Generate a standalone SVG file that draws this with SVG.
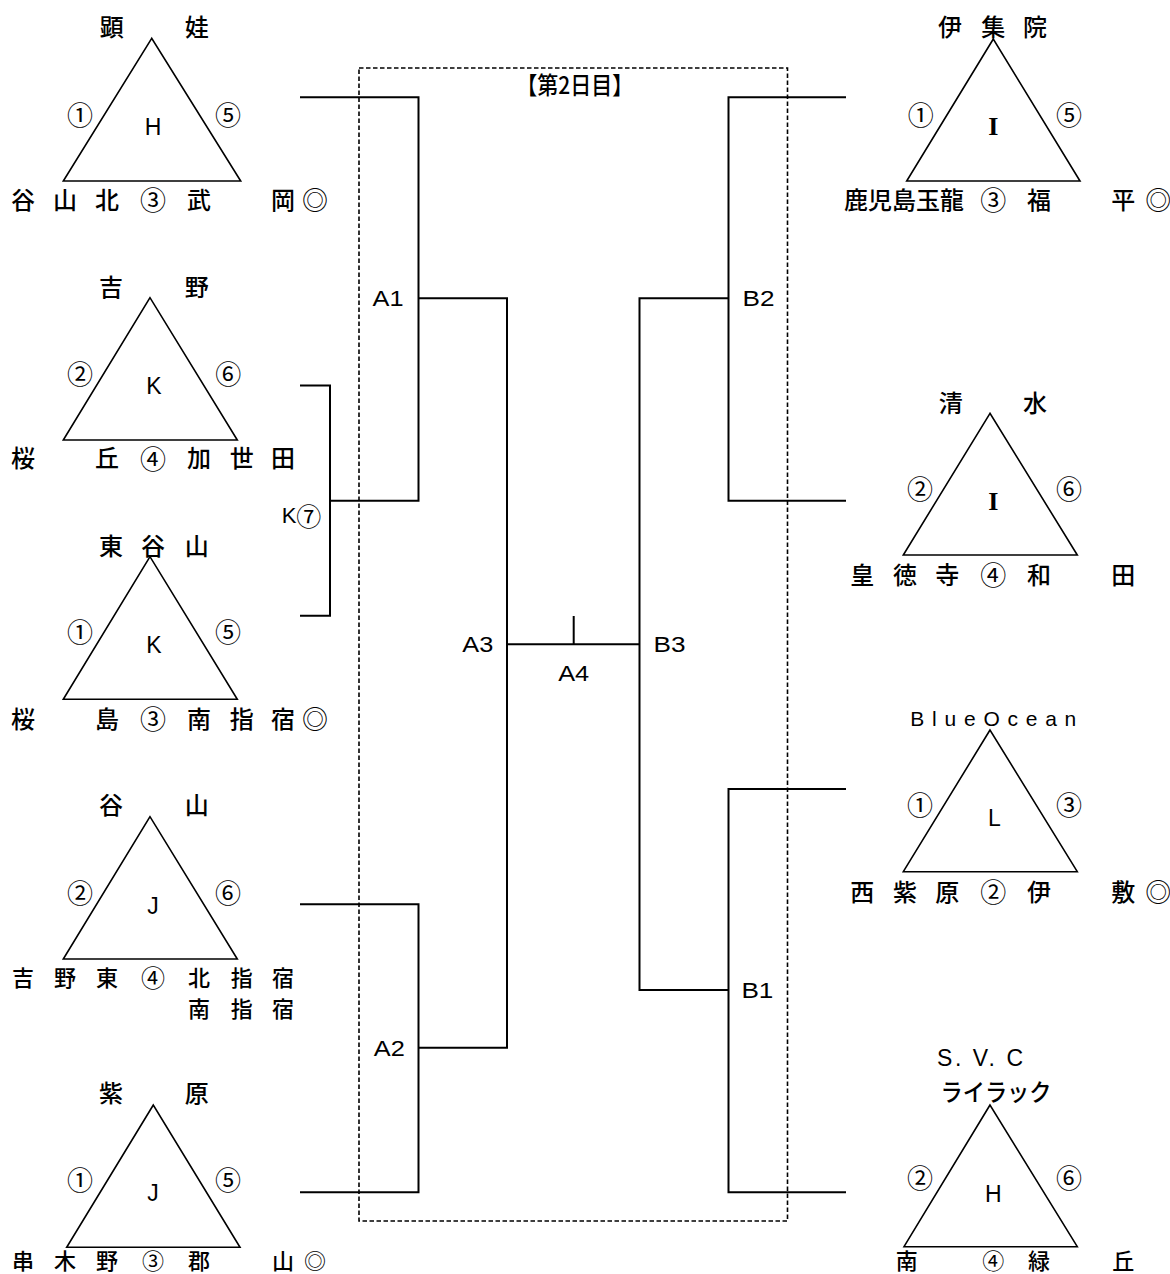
<svg xmlns="http://www.w3.org/2000/svg" width="1170" height="1274" viewBox="0 0 1170 1274">
<style>
.j{font-family:"Noto Sans CJK JP","Liberation Sans",sans-serif;font-size:24px;font-weight:500;text-anchor:middle;dominant-baseline:central;fill:#000}
.s{font-size:22px}
.c{font-family:"Noto Sans CJK JP",sans-serif;font-size:26px;text-anchor:middle;dominant-baseline:central;fill:#000}
.cs{font-size:26px;font-weight:400}
.cb{font-size:24px;font-weight:400}
.cn{font-weight:400}
.g{font-family:"Liberation Sans","Noto Sans CJK JP",sans-serif;font-size:23px;text-anchor:middle;dominant-baseline:central;fill:#000}
.r{font-family:"Liberation Serif","Noto Serif CJK JP",serif;font-size:26px;font-weight:bold;text-anchor:middle;dominant-baseline:central;fill:#000}
.lb{font-family:"Liberation Sans","Noto Sans CJK JP",sans-serif;font-size:22px;text-anchor:middle;dominant-baseline:central;fill:#000}
.tri{fill:none;stroke:#000;stroke-width:1.6;stroke-linejoin:miter}
.ln{fill:none;stroke:#000;stroke-width:2}
.dash{fill:none;stroke:#000;stroke-width:1.6;stroke-dasharray:4.5 2.5}
</style>
<rect width="1170" height="1274" fill="#fff"/>

<g id="frame">
<rect class="dash" x="359" y="68" width="428.5" height="1153"/>
<text class="j" x="574.7" y="83" textLength="117" lengthAdjust="spacingAndGlyphs">【第2日目】</text>
</g>

<g id="connectors">
<path class="ln" d="M300,97.3 H418.5 V500.7 H330"/>
<path class="ln" d="M300,385.5 H330 V615.8 H300"/>
<path class="ln" d="M418.5,298.3 H507 V1047.7 H418.5"/>
<path class="ln" d="M300,904.3 H418.5 V1192.3 H300"/>
<path class="ln" d="M507,644.3 H639.5"/>
<path class="ln" d="M573.7,616 V644.3"/>
<path class="ln" d="M846,97.3 H728.5 V500.7 H846"/>
<path class="ln" d="M728.5,298.3 H639.5 V990 H728.5"/>
<path class="ln" d="M846,789 H728.5 V1192.3 H846"/>
<text class="lb" x="388" y="298.3" textLength="31" lengthAdjust="spacingAndGlyphs">A1</text>
<text class="lb" x="758.5" y="298.3" textLength="32" lengthAdjust="spacingAndGlyphs">B2</text>
<text class="lb" x="477.8" y="644.3" textLength="31" lengthAdjust="spacingAndGlyphs">A3</text>
<text class="lb" x="669.6" y="644.3" textLength="32" lengthAdjust="spacingAndGlyphs">B3</text>
<text class="lb" x="573.7" y="673" textLength="31" lengthAdjust="spacingAndGlyphs">A4</text>
<text class="lb" x="389.3" y="1048" textLength="31" lengthAdjust="spacingAndGlyphs">A2</text>
<text class="lb" x="757.4" y="990" textLength="32" lengthAdjust="spacingAndGlyphs">B1</text>
<text class="lb" x="301.5" y="515">K<tspan style="font-family:'Noto Sans CJK JP',sans-serif;font-size:25px">⑦</tspan></text>
</g>

<g id="node-H-eino">
<polygon class="tri" points="151.7,38.3 63.3,181 240.7,181"/>
<text class="j" x="111.7 196.7" y="25">顕娃</text>
<text class="c" x="80" y="113">①</text>
<text class="c" x="228" y="113">⑤</text>
<text class="g" x="153" y="127">H</text>
<text class="j" x="23 65 107 153 199 283 315" y="198">谷山北<tspan class="cs">③</tspan>武岡<tspan class="cs">◎</tspan></text>
</g>

<g id="node-K-yoshino">
<polygon class="tri" points="150,297.7 63.3,440 237.3,440"/>
<text class="j" x="111 196.7" y="285">吉野</text>
<text class="c" x="80" y="372.7">②</text>
<text class="c" x="228.3" y="372.7">⑥</text>
<text class="g" x="154" y="386">K</text>
<text class="j" x="23 107 153 199 241.7 283" y="456.7">桜丘<tspan class="cs">④</tspan>加世田</text>
</g>

<g id="node-K-higashitaniyama">
<polygon class="tri" points="150,556.7 63.3,699.3 237.3,699.3"/>
<text class="j" x="111 153 196.7" y="544">東谷山</text>
<text class="c" x="80" y="630">①</text>
<text class="c" x="228" y="630">⑤</text>
<text class="g" x="154" y="645">K</text>
<text class="j" x="23 107 153 199 241.7 283 315" y="717.3">桜島<tspan class="cs">③</tspan>南指宿<tspan class="cs">◎</tspan></text>
</g>

<g id="node-J-taniyama">
<polygon class="tri" points="150,816.7 63.3,959 237.3,959"/>
<text class="j" x="111 196.7" y="803.3">谷山</text>
<text class="c" x="80" y="891">②</text>
<text class="c" x="228" y="891">⑥</text>
<text class="g" x="153" y="905.7">J</text>
<text class="j s" x="23 65 107 153 199 241.7 283" y="975.5">吉野東<tspan class="cb">④</tspan>北指宿</text>
<text class="j s" x="199 241.7 283" y="1007">南指宿</text>
</g>

<g id="node-J-shiohara">
<polygon class="tri" points="153.3,1105 66.7,1247.3 240,1247.3"/>
<text class="j" x="111 196.7" y="1091">紫原</text>
<text class="c" x="80" y="1178.3">①</text>
<text class="c" x="228" y="1178.3">⑤</text>
<text class="g" x="153" y="1193.3">J</text>
<text class="j s" x="23 65 107 153 199 283 315" y="1258.5">串木野<tspan class="cn">③</tspan>郡山<tspan class="cn">◎</tspan></text>
</g>

<g id="node-I-ijuin">
<polygon class="tri" points="993.3,39 906.7,181 1080,181"/>
<text class="j" x="950 993.3 1035" y="25">伊集院</text>
<text class="c" x="920.7" y="113.3">①</text>
<text class="c" x="1069" y="113.3">⑤</text>
<text class="r" x="993.3" y="126.7">I</text>
<text class="j" y="198.3"><tspan x="904">鹿児島玉龍</tspan><tspan x="993.3 1039 1123.3 1158.3"><tspan class="cs">③</tspan>福平<tspan class="cs">◎</tspan></tspan></text>
</g>

<g id="node-I-shimizu">
<polygon class="tri" points="990,413.3 903.3,555 1077.3,555"/>
<text class="j" x="950.7 1035" y="401.7">清水</text>
<text class="c" x="920" y="487.3">②</text>
<text class="c" x="1069" y="487.3">⑥</text>
<text class="r" x="993.3" y="501.7">I</text>
<text class="j" x="862.3 905 947.3 993.3 1039 1123.3" y="573.3">皇徳寺<tspan class="cs">④</tspan>和田</text>
</g>

<g id="node-L-blueocean">
<polygon class="tri" points="990,730 903.3,871.7 1077.3,871.7"/>
<text class="lb" x="993.3" y="718.3" style="font-size:21px" textLength="166" lengthAdjust="spacing">BlueOcean</text>
<text class="c" x="920" y="803.3">①</text>
<text class="c" x="1069" y="803.3">③</text>
<text class="g" x="994.3" y="818.3">L</text>
<text class="j" x="862.3 905 947.3 993.3 1039 1123.3 1158.3" y="890">西紫原<tspan class="cs">②</tspan>伊敷<tspan class="cs">◎</tspan></text>
</g>

<g id="node-H-svc">
<polygon class="tri" points="990,1105 904,1246.7 1077.3,1246.7"/>
<text class="lb" x="980" y="1058.3" style="font-size:23px" textLength="86" lengthAdjust="spacing">S. V. C</text>
<text class="j" x="996" y="1090" textLength="111" lengthAdjust="spacingAndGlyphs">ライラック</text>
<text class="c" x="920" y="1176.7">②</text>
<text class="c" x="1069" y="1176.7">⑥</text>
<text class="g" x="993.3" y="1194.3">H</text>
<text class="j s" x="906.7 993.3 1039 1123.3" y="1258.5">南<tspan class="cn">④</tspan>緑丘</text>
</g>
</svg>
